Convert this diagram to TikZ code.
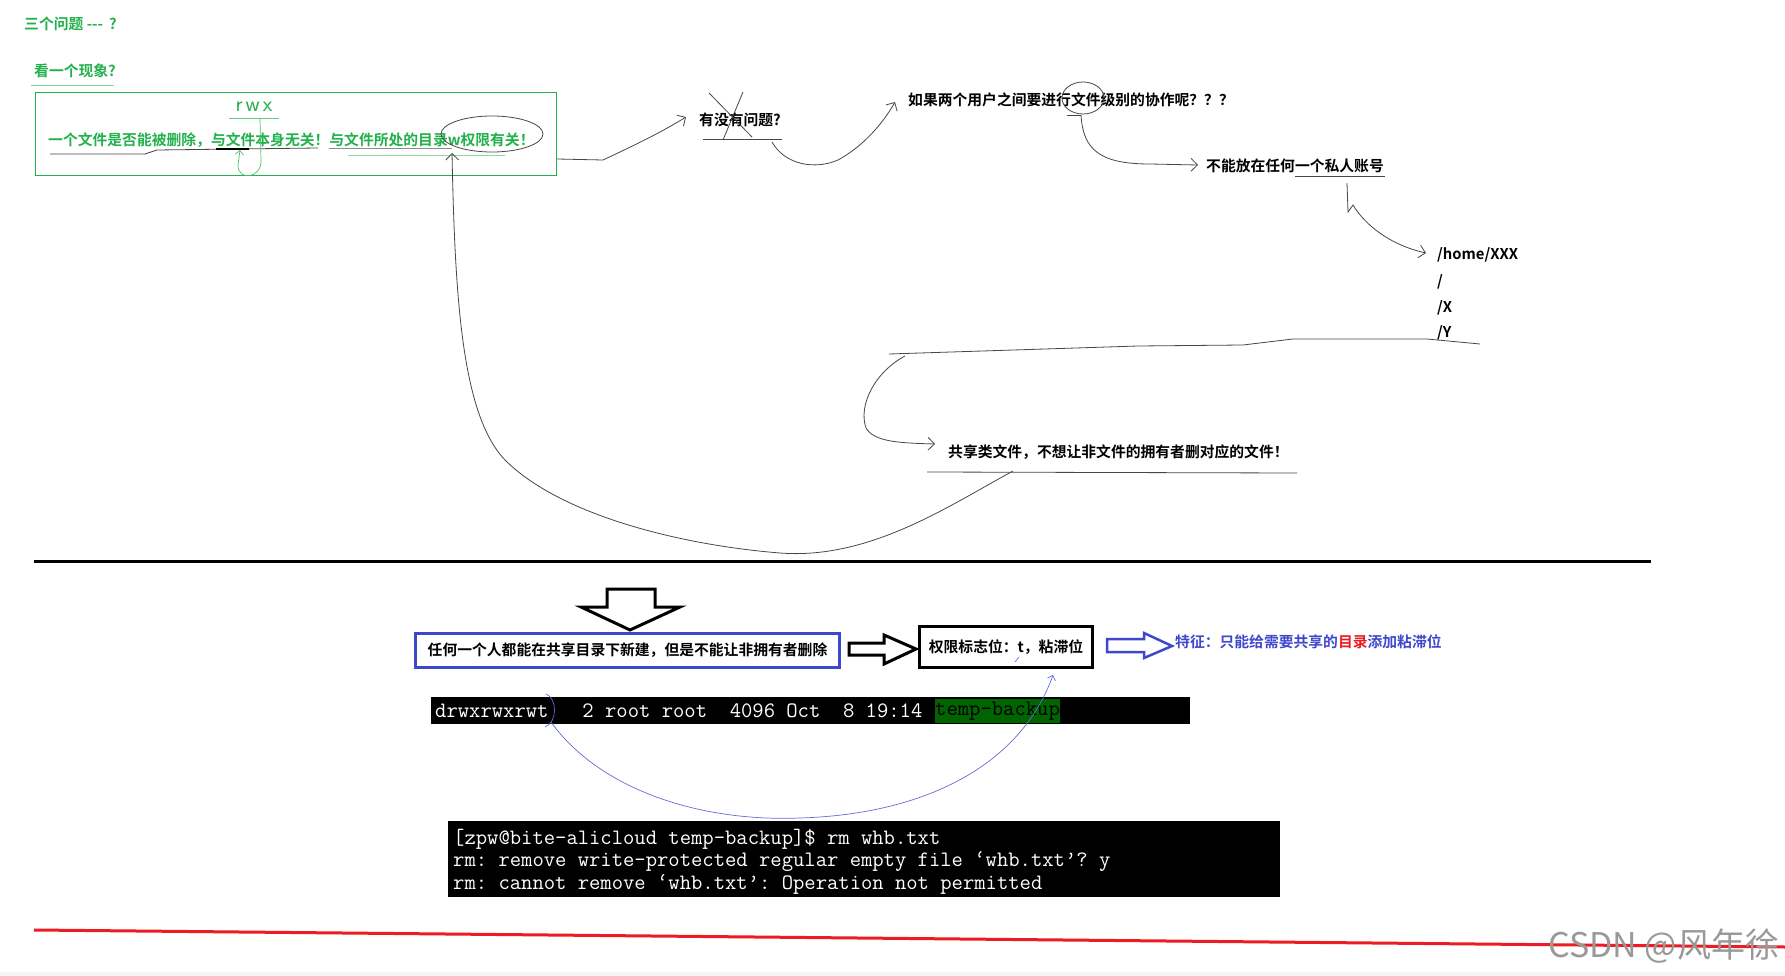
\documentclass[tikz,border=0pt]{standalone}
\usepackage{fontspec}
\newfontfamily\cjk{Noto Sans CJK SC}[BoldFont={Noto Sans CJK SC Bold}]
\usetikzlibrary{arrows.meta}
\definecolor{paintgreen}{RGB}{34,177,76}
\definecolor{paintblue}{RGB}{63,72,204}
\definecolor{paintred}{RGB}{237,28,36}
\definecolor{lsgreen}{RGB}{0,100,0}
\frenchspacing
\tikzset{
  cn/.style={font=\cjk\bfseries\fontsize{14.8}{17}\selectfont},
  txt/.style={cn,anchor=west,inner sep=0pt},
  pen/.style={draw=black!72,line width=0.8pt},
  bluepen/.style={draw=paintblue!80,line width=0.7pt},
  barb/.style={-{Straight Barb[angle=90:9pt]}},
  term/.style={anchor=west,inner sep=0pt,text=white,font=\ttfamily\fontsize{22}{22}\selectfont},
  hollow/.style={draw,line width=3pt,fill=white,line join=miter}
}
\begin{document}
\begin{tikzpicture}[x=1pt,y=-1pt]
\useasboundingbox[fill=white] (0,0) rectangle (1785,976);

\node[txt,text=paintgreen] (title) at (24,24) {三个问题 --- \,?};
\node[txt,text=paintgreen] (look) at (34,71) {看一个现象?};
\draw[paintgreen!55,line width=0.8pt] (31,85) -- (114,85);

\node[draw=paintgreen,line width=1pt,minimum width=521pt,minimum height=83pt,anchor=north west,inner sep=0pt] (fact) at (35,92) {};
\node[txt,text=paintgreen] (facttxt) at (48,140) {一个文件是否能被删除，与文件本身无关！与文件所处的目录w权限有关！};
\draw[pen] (50,154) -- (145,154) -- (157,150) -- (318,148);
\draw[black,line width=1.2pt] (216,149) -- (249,149);
\draw[black!45,line width=0.6pt] (329,148) -- (452,148);
\draw[paintgreen!50,line width=0.8pt] (348,155) -- (505,155);
\draw[pen] (492,134) ellipse [x radius=51, y radius=18];

\node[inner sep=0pt,text=paintgreen,font=\sffamily\fontsize{22}{22}\selectfont] (rwx) at (254,107) {r\kern3pt w\kern3pt x};
\draw[paintgreen!70,line width=0.8pt] (229,118) -- (279,118);
\draw[draw=paintgreen!80,line width=0.7pt,-{Straight Barb[angle=90:6pt]}] (260,119) -- (261,160) .. controls (262,178) and (238,182) .. (238,165) -- (240,150);

\node[txt] (ques) at (699,120) {有没有问题?};
\draw[pen] (709,93) -- (752,137);
\draw[pen] (743,92) -- (723,140);
\draw[pen] (703,139) -- (782,139);

\node[txt] (coop) at (908,100) {如果两个用户之间要进行文件级别的协作呢？？？};
\draw[pen] (1083,98) ellipse [x radius=21, y radius=16];

\node[txt] (priv) at (1206,166) {不能放在任何一个私人账号};
\draw[pen] (1295,176) -- (1385,176);

\node[txt] (home) at (1437,255) {/home/XXX};
\node[txt] (root) at (1437,282) {/};
\node[txt] (dirx) at (1437,308) {/X};
\node[txt] (diry) at (1437,333) {/Y};

\node[txt] (share) at (948,452) {共享类文件，不想让非文件的拥有者删对应的文件！};
\draw[pen] (927,472) -- (1297,473);

\draw[pen,barb] (fact.east |- 0,159) -- (603,160) .. controls (635,145) and (662,132) .. ([shift={(-13,-3)}]ques.west);
\draw[pen,barb] (772,142) .. controls (785,165) and (815,170) .. (838,160) .. controls (862,147) and (882,125) .. ([shift={(-13,2)}]coop.west);
\draw[pen] (1067,115) -- (1081,115);
\draw[pen,barb] (1081,115) .. controls (1083,150) and (1100,164) .. (1150,164) -- ([shift={(-8,-1)}]priv.west);
\draw[pen,barb] (1347,183) -- (1348,212) -- (1353,205) .. controls (1365,225) and (1390,245) .. ([shift={(-11,-2)}]home.west);
\draw[pen] (1480,344) -- (1427,339) -- (1293,339) -- (1243,345) -- (1138,346) -- (889,354);
\draw[pen,barb] (905,356) .. controls (875,372) and (858,405) .. (866,428) .. controls (874,442) and (900,443) .. ([shift={(-13,-8)}]share.west);
\coordinate (wperm) at (452,153);
\draw[pen,barb] (1013,471) .. controls (950,505) and (870,560) .. (780,553) .. controls (680,545) and (560,515) .. (505,460) .. controls (462,415) and (455,300) .. (wperm);

\draw[line width=3pt] (34,561) -- (1651,561);

\draw[hollow] (607,589) -- (655,589) -- (655,607) -- (680,607) -- (630,630) -- (581,607) -- (607,607) -- cycle;

\node[cn,draw=paintblue,line width=3pt,minimum width=424pt,minimum height=34pt] (rule) at (627.5,650.5) {任何一个人都能在共享目录下新建，但是不能让非拥有者删除};
\draw[hollow] (849,643) -- (884,643) -- (884,635) -- (916,649) -- (884,664) -- (884,655) -- (849,655) -- cycle;
\node[cn,draw,line width=3pt,minimum width=173pt,minimum height=41pt] (flag) at (1006,647) {权限标志位：t，粘滞位};
\draw[hollow,draw=paintblue,line width=2.5pt] (1107,639) -- (1144,639) -- (1144,633) -- (1172,646) -- (1144,658) -- (1144,652) -- (1107,652) -- cycle;
\node[txt,text=paintblue] (trait) at (1175,642) {特征：只能给需要共享的\textcolor{paintred}{目录}添加粘滞位};

\node[fill=black,minimum width=759pt,minimum height=27pt,inner sep=0pt,anchor=north west] (lsbar) at (431,697) {};
\node[term] (lsline) at (435,711) {drwxrwxrwt\ \ \ 2 root root\ \ 4096 Oct\ \ 8 19:14};
\node[term,text=black,fill=lsgreen,minimum height=24pt] (dirname) at (935,711) {temp-backup};

\node[fill=black,minimum width=832pt,minimum height=76pt,inner sep=0pt,anchor=north west] (rmbar) at (448,821) {};
\node[term] (cmd) at (453,839) {[zpw@bite-alicloud temp-backup]\$ rm whb.txt};
\node[term] (ask) at (453,862) {rm: remove write-protected regular empty file ‘whb.txt’? y};
\node[term] (deny) at (453,884) {rm: cannot remove ‘whb.txt’: Operation not permitted};

\draw[bluepen] (546,694) .. controls (557,698) and (558,722) .. (545,727);
\draw[bluepen] (1015,662) -- (1019,657);
\draw[bluepen,-{Straight Barb[angle=90:6pt]}] (551,722) .. controls (600,790) and (700,822) .. (800,818) .. controls (930,814) and (1022,762) .. ([shift={(47,6)}]flag.south);

\draw[paintred,line width=3pt] (34,930) -- (1785,947);
\fill[black!4] (0,972) rectangle (1785,976);
\node[anchor=west,inner sep=0pt,text=black!40,font=\cjk\fontsize{34}{36}\selectfont] (mark) at (1548,946) {CSDN @风年徐};
\end{tikzpicture}
\end{document}
